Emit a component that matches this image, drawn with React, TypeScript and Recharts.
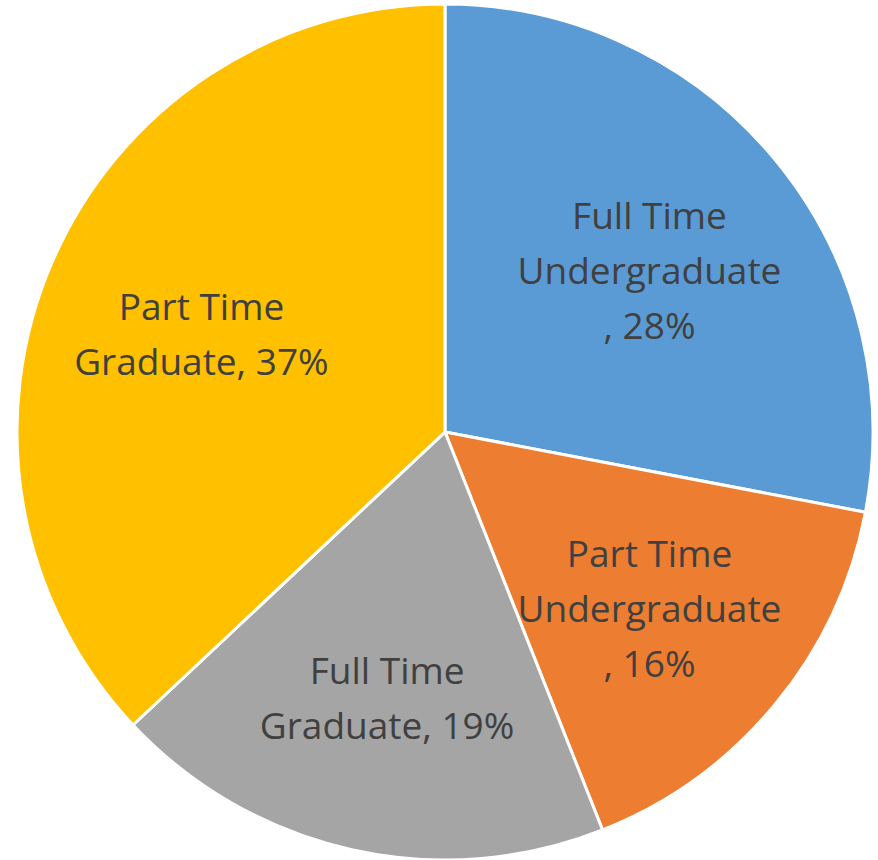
import React from 'react';
import { PieChart, Pie, Cell } from 'recharts';

const categories = ['Full Time Undergraduate', 'Part Time Undergraduate', 'Full Time Graduate', 'Part Time Graduate'];
const shares = [28, 16, 19, 37];
const colors = ['#5B9BD5', '#ED7D31', '#A5A5A5', '#FFC000'];

const data = categories.map((name, i) => ({ name, value: shares[i] }));

const RADIAN = Math.PI / 180;

const renderLabel = (props: any) => {
  const { cx, cy, midAngle, outerRadius, index } = props;
  const r = outerRadius * 0.62;
  const x = cx + r * Math.cos(-midAngle * RADIAN);
  const y = cy + r * Math.sin(-midAngle * RADIAN);
  const words = categories[index].split(' ');
  const head = words.slice(0, 2).join(' ');
  const rest = words.slice(2).join(' ');
  const pct = `${shares[index]}%`;
  const lines = rest.length > 10 ? [head, rest, `, ${pct}`] : [head, `${rest}, ${pct}`];
  const lh = 55;
  const top = y - ((lines.length - 1) * lh) / 2 + 6;
  return (
    <text
      x={x}
      y={top}
      textAnchor="middle"
      dominantBaseline="central"
      fill="#404040"
      fontSize={37}
      fontFamily="'Open Sans', sans-serif"
    >
      {lines.map((l, i) => (
        <tspan key={i} x={x} y={top + i * lh}>
          {l}
        </tspan>
      ))}
    </text>
  );
};

export default function App() {
  return (
    <div style={{ position: 'absolute', left: 0, top: 0, width: 878, height: 860, background: '#fff' }}>
      <PieChart width={878} height={860}>
        <Pie
          data={data}
          dataKey="value"
          nameKey="name"
          cx={440}
          cy={427}
          outerRadius={428}
          startAngle={90}
          endAngle={-270}
          stroke="#fff"
          strokeWidth={3}
          label={renderLabel}
          labelLine={false}
          isAnimationActive={false}
        >
          {data.map((d, i) => (
            <Cell key={d.name} fill={colors[i]} />
          ))}
        </Pie>
      </PieChart>
    </div>
  );
}
